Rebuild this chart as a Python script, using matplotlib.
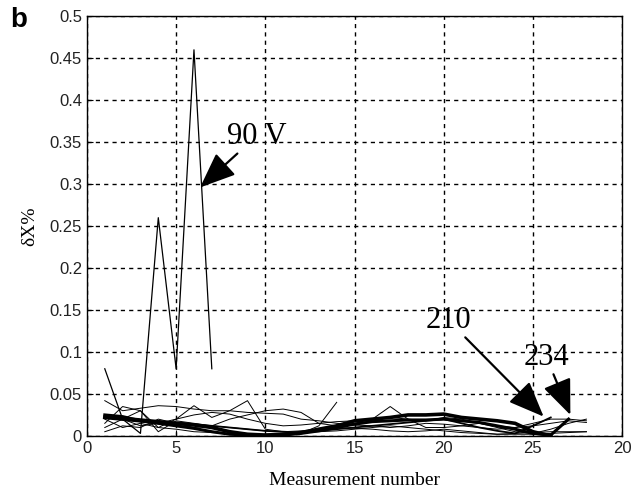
import matplotlib.pyplot as plt
import numpy as np

# measurement numbers and deviations (percent) for each voltage run
y_90v = [0.08, 0.02, 0.003, 0.26, 0.08, 0.46, 0.08]

thin_runs = [
    [0.005, 0.012, 0.01, 0.02, 0.015, 0.01, 0.012, 0.02, 0.025, 0.03, 0.032, 0.028, 0.015, 0.012,
     0.015, 0.02, 0.035, 0.02, 0.01, 0.01, 0.012, 0.015, 0.012, 0.01, 0.012, 0.015, 0.018, 0.016],
    [0.015, 0.035, 0.03, 0.01, 0.02, 0.036, 0.022, 0.03, 0.042, 0.008, 0.005, 0.003, 0.012, 0.04],
    [0.042, 0.03, 0.033, 0.036, 0.035, 0.032, 0.03, 0.03, 0.028, 0.027, 0.026, 0.02, 0.018, 0.015,
     0.013, 0.012, 0.01, 0.012, 0.015, 0.014, 0.012, 0.01, 0.008, 0.01, 0.015, 0.02, 0.02, 0.018],
    [0.01, 0.02, 0.03, 0.005, 0.018, 0.015, 0.012, 0.01, 0.008, 0.006, 0.005, 0.006, 0.008, 0.01,
     0.009, 0.008, 0.006, 0.005, 0.006, 0.008, 0.006, 0.004, 0.002, 0.003, 0.004, 0.005, 0.005, 0.005],
    [0.02, 0.01, 0.015, 0.01, 0.008, 0.005, 0.004, 0.003, 0.002, 0.002, 0.003, 0.004, 0.005, 0.006,
     0.008, 0.01, 0.012, 0.01, 0.008, 0.006, 0.004, 0.003, 0.002, 0.002, 0.002, 0.003, 0.004, 0.005],
    [0.025, 0.02, 0.012, 0.015, 0.02, 0.025, 0.028, 0.026, 0.02, 0.015, 0.012, 0.013, 0.015, 0.017,
     0.018, 0.02, 0.022, 0.02, 0.018, 0.022, 0.02, 0.015, 0.01, 0.005, 0.003, 0.008, 0.015, 0.02],
]

y_210v = [0.024, 0.022, 0.02, 0.018, 0.016, 0.014, 0.012, 0.01, 0.008, 0.006, 0.005, 0.004, 0.006,
          0.008, 0.01, 0.012, 0.014, 0.016, 0.018, 0.02, 0.015, 0.01, 0.006, 0.003, 0.012, 0.022]
y_234v = [0.025, 0.023, 0.018, 0.015, 0.012, 0.009, 0.005, 0.002, 0.001, 0.0, 0.001, 0.003, 0.006,
          0.01, 0.014, 0.017, 0.018, 0.019, 0.019, 0.02, 0.018, 0.016, 0.012, 0.008, 0.003, 0.001, 0.02]
y_thick = [0.022, 0.02, 0.018, 0.016, 0.015, 0.013, 0.01, 0.005, 0.002, 0.001, 0.002, 0.004, 0.008,
           0.012, 0.018, 0.02, 0.022, 0.025, 0.025, 0.026, 0.022, 0.02, 0.018, 0.015, 0.005, 0.0]

x_ticks = [0, 5, 10, 15, 20, 25, 30]
x_ticklabels = ['0', '5', '10', '15', '20', '25', '20']
y_ticks = [0, 0.05, 0.1, 0.15, 0.2, 0.25, 0.3, 0.35, 0.4, 0.45, 0.5]
y_ticklabels = ['0', '0.05', '0.1', '0.15', '0.2', '0.25', '0.3', '0.35', '0.4', '0.45', '0.5']


def meas(y):
    return np.arange(1, len(y) + 1)


fig = plt.figure(figsize=(6.44, 4.92), dpi=100)
ax = fig.add_axes([0.135, 0.114, 0.831, 0.853])

for y in thin_runs:
    ax.plot(meas(y), y, color='k', lw=0.7)
ax.plot(meas(y_90v), y_90v, color='k', lw=0.9)
ax.plot(meas(y_210v), y_210v, color='k', lw=1.3)
ax.plot(meas(y_thick), y_thick, color='k', lw=2.6)
ax.plot(meas(y_234v), y_234v, color='k', lw=2.2)

ax.set_xlim(0, 30)
ax.set_ylim(0, 0.5)
ax.set_xticks(x_ticks)
ax.set_xticklabels(x_ticklabels)
ax.set_yticks(y_ticks)
ax.set_yticklabels(y_ticklabels)
ax.tick_params(direction='in', length=4, labelsize=12, colors='k', labelcolor='#222222')
for lbl in ax.get_xticklabels() + ax.get_yticklabels():
    lbl.set_family('Liberation Sans')

ax.grid(True, color='k', ls=(0, (3, 3)), lw=1.0)
for s in ax.spines.values():
    s.set_linewidth(1.0)

ax.set_xlabel('Measurement number', family='Liberation Serif', fontsize=14, labelpad=12)
ax.set_ylabel('δX%', family='Liberation Serif', fontsize=14, labelpad=8)

arrow = dict(arrowstyle='-|>,head_length=1.1,head_width=0.45', color='k', lw=1.6,
             mutation_scale=20, shrinkA=0, shrinkB=0)
ax.annotate('90 V', xy=(6.34, 0.296), xytext=(9.5, 0.357), ha='center', va='center',
            family='Liberation Serif', fontsize=22, arrowprops=arrow)
ax.annotate('210', xy=(25.6, 0.023), xytext=(20.25, 0.138), ha='center', va='center',
            family='Liberation Serif', fontsize=22, arrowprops=arrow)
ax.annotate('234', xy=(27.1, 0.025), xytext=(25.75, 0.094), ha='center', va='center',
            family='Liberation Serif', fontsize=22, arrowprops=arrow)

fig.text(0.016, 0.945, 'b', family='Liberation Sans', fontweight='bold', fontsize=20)

fig.savefig('out.png', dpi=100)
